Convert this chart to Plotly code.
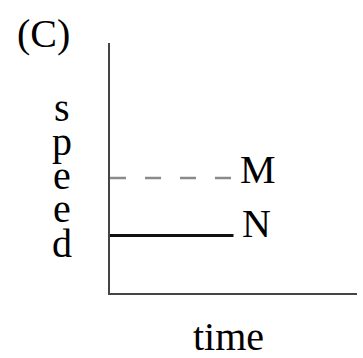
import plotly.graph_objects as go

# Speed-time sketch: two constant-speed objects
time_span = [0.0, 0.5]
speed_M = [0.46, 0.46]
speed_N = [0.23, 0.23]
series_names = ["M", "N"]
panel_label = "(C)"
y_title_letters = list("speed")
x_title = "time"

W, H = 363, 358
L, R, T, B = 110, 6, 43, 65
plot_w, plot_h = W - L - R, H - T - B

serif = "Liberation Serif, Times New Roman, serif"
fs = 40

fig = go.Figure()
fig.add_trace(go.Scatter(x=time_span, y=speed_M, mode="lines",
                         line=dict(color="#8a8a8a", width=2.5, dash="16px,19px"),
                         showlegend=False, hoverinfo="skip"))
fig.add_trace(go.Scatter(x=time_span, y=speed_N, mode="lines",
                         line=dict(color="#111111", width=3),
                         showlegend=False, hoverinfo="skip"))

annotations = []
# end-of-line labels
for name, xs, ys, dx, dy in [(series_names[0], time_span, speed_M, 4, 9),
                              (series_names[1], time_span, speed_N, 6, 12)]:
    annotations.append(dict(x=xs[-1], y=ys[-1], xref="x", yref="y", text=name,
                            showarrow=False, xanchor="left", yanchor="middle",
                            xshift=dx, yshift=dy,
                            font=dict(family=serif, size=fs, color="black")))

def px_to_paper(px, py):
    return (px - L) / plot_w, (H - B - py) / plot_h

# vertical stacked axis title, one letter per row
for i, ch in enumerate(y_title_letters):
    xp, yp = px_to_paper(62, 107 + 34 * i)
    annotations.append(dict(x=xp, y=yp, xref="paper", yref="paper", text=ch,
                            showarrow=False, xanchor="center", yanchor="middle",
                            font=dict(family=serif, size=fs, color="black")))

xp, yp = px_to_paper(228, 336)
annotations.append(dict(x=xp, y=yp, xref="paper", yref="paper", text=x_title,
                        showarrow=False, xanchor="center", yanchor="middle",
                        font=dict(family=serif, size=fs, color="black")))

xp, yp = px_to_paper(43, 34)
annotations.append(dict(x=xp, y=yp, xref="paper", yref="paper", text=panel_label,
                        showarrow=False, xanchor="center", yanchor="middle",
                        font=dict(family=serif, size=fs, color="black")))

fig.update_layout(
    width=W, height=H,
    margin=dict(l=L, r=R, t=T, b=B, pad=0),
    paper_bgcolor="white", plot_bgcolor="white",
    xaxis=dict(range=[0, 1], showgrid=False, zeroline=False, showticklabels=False,
               ticks="", showline=True, linecolor="#444444", linewidth=2),
    yaxis=dict(range=[0, 1], showgrid=False, zeroline=False, showticklabels=False,
               ticks="", showline=True, linecolor="#444444", linewidth=2),
    annotations=annotations,
)

fig.write_html("out.html")
